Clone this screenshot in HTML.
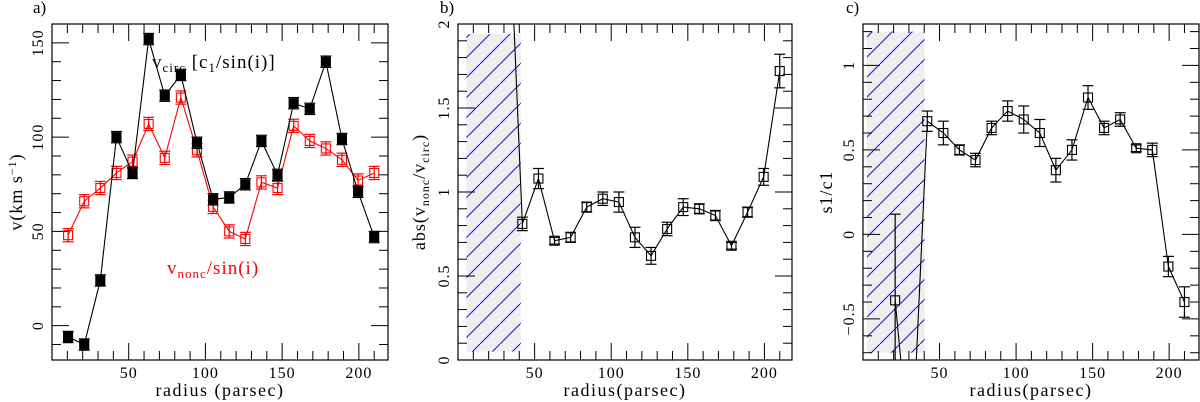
<!DOCTYPE html>
<html><head><meta charset="utf-8">
<style>
html,body{margin:0;padding:0;background:#fff;width:1200px;height:402px;overflow:hidden;}
svg{display:block;font-family:"Liberation Serif",serif;}
</style></head>
<body>
<svg id="fig" width="1200" height="402" viewBox="0 0 1200 402" xmlns="http://www.w3.org/2000/svg">
<defs>
<pattern id="hatch" patternUnits="userSpaceOnUse" width="20" height="20" patternTransform="translate(0,4)">
<rect width="20" height="20" fill="#eeeeee"/>
<line x1="0" y1="20" x2="20" y2="0" stroke="#1a1aff" stroke-width="1.1"/>
</pattern>
</defs>
</svg>
<script>
// ---- data ----
const radii = [10.5,21,31.5,42,52.5,63,73.5,84,94.5,105,115.5,126,136.5,147,157.5,168,178.5,189,199.5,210];
const vcirc = [-6,-10,24,100,81,152,122,133,97,67,68,75,98,80,118,115,140,99,71,47];
const vcircErr = [3,3,3,3,3,3,3,3,3,3,3,3,3,3,3,3,3,3,3,3];
const vnonc = [48,66,73,81,87,107,89,121,93,63,50,46,76,73,106,98,94,88,77,81];
const vnoncErr = [3.5,3.5,3.5,3.5,3.5,3.5,3.5,3.5,3.5,3.5,3.5,3.5,3.5,3.5,3.5,3.5,3.5,3.5,3.5,3.5];
const ratioR = [31.5,42,52.5,63,73.5,84,94.5,105,115.5,126,136.5,147,157.5,168,178.5,189,199.5,210];
const ratio = [3.08,0.81,1.08,0.71,0.73,0.91,0.96,0.94,0.73,0.62,0.78,0.91,0.90,0.86,0.68,0.88,1.09,1.72];
const ratioErr = [0,0.04,0.06,0.02,0.03,0.03,0.04,0.06,0.06,0.05,0.04,0.05,0.03,0.03,0.02,0.03,0.05,0.1];
const s1R = [21,31.5,42,52.5,63,73.5,84,94.5,105,115.5,126,136.5,147,157.5,168,178.5,189,199.5,210];
const s1c1 = [-0.39,-1.4,0.67,0.60,0.50,0.44,0.63,0.73,0.68,0.60,0.38,0.50,0.81,0.63,0.68,0.51,0.50,-0.19,-0.40];
const s1Err = [0.51,0,0.06,0.07,0.03,0.04,0.04,0.06,0.08,0.08,0.07,0.06,0.07,0.04,0.04,0.02,0.04,0.06,0.09];
const ticksA = [0,50,100,150];
const ticksB = [0,0.5,1,1.5,2];
const ticksC = [-0.5,0,0.5,1];
const ticksX = [50,100,150,200];

const NS="http://www.w3.org/2000/svg";
const svg=document.getElementById('fig');
function mk(tag,attrs,parent){const e=document.createElementNS(NS,tag);for(const k in attrs)e.setAttribute(k,attrs[k]);(parent||svg).appendChild(e);return e;}

function panel(p){
  const g=mk('g',{});
  
  
  const sx=v=>p.L+(v-p.x0)/(p.x1-p.x0)*(p.R-p.L);
  const sy=v=>p.B-(v-p.y0)/(p.y1-p.y0)*(p.B-p.T);
  const clipId='clip'+p.name;
  const cp=mk('clipPath',{id:clipId},g);mk('rect',{x:p.L,y:p.T,width:p.R-p.L,height:p.B-p.T},cp);
  if(p.hatch){
    const h=mk('rect',{x:sx(p.hatch[0]),y:sy(p.hatch[3]),width:sx(p.hatch[1])-sx(p.hatch[0]),height:sy(p.hatch[2])-sy(p.hatch[3]),fill:'url(#hatch)'},g);
    
    
  }
  const tg=mk('g',{stroke:'#000','stroke-width':1},g);
  for(let v=p.xmin0;v<=p.x1;v+=p.xminor){
    const maj=Math.abs(v/p.xmajor-Math.round(v/p.xmajor))<1e-6;const len=maj?17:9;const x=sx(v);
    if(x<p.L+1||x>p.R-1)continue;
    mk('line',{x1:x,y1:p.B,x2:x,y2:p.B-len},tg);mk('line',{x1:x,y1:p.T,x2:x,y2:p.T+len},tg);
  }
  const n0=Math.ceil(p.y0/p.yminor-1e-6),n1=Math.floor(p.y1/p.yminor+1e-6);
  for(let n=n0;n<=n1;n++){
    const v=n*p.yminor;const maj=Math.abs(v/p.ymajor-Math.round(v/p.ymajor))<1e-6;const len=maj?17:9;const y=sy(v);
    if(y<p.T+1||y>p.B-1)continue;
    mk('line',{x1:p.L,y1:y,x2:p.L+len,y2:y},tg);mk('line',{x1:p.R,y1:y,x2:p.R-len,y2:y},tg);
  }
  ticksX.forEach(v=>{const t=mk('text',{x:sx(v),y:p.B+18,'text-anchor':'middle','font-size':16,'letter-spacing':1},g);t.textContent=v;
    
    });
  p.yt.forEach(v=>{const y=sy(v);const t=mk('text',{x:0,y:0,'text-anchor':'middle','font-size':16,'letter-spacing':1,transform:`translate(${p.L-9},${y}) rotate(-90)`},g);t.textContent=String(v).replace('-','\u2212');
    
    });
  const dg=mk('g',{'clip-path':`url(#${clipId})`},g);
  p.series.forEach(s=>{
    const sg=mk('g',{},dg);
    
    
    const pts=s.x.map((x,i)=>sx(x)+','+sy(s.y[i])).join(' ');
    mk('polyline',{points:pts,fill:'none',stroke:s.color,'stroke-width':1.1},sg);
    s.x.forEach((x,i)=>{
      const X=sx(x),Y=sy(s.y[i]),e=s.err[i];
      if(e>0){const y1=sy(s.y[i]+e),y2=sy(s.y[i]-e);
        mk('line',{x1:X,y1:y1,x2:X,y2:y2,stroke:s.color,'stroke-width':1.2},sg);
        mk('line',{x1:X-5.5,y1:y1,x2:X+5.5,y2:y1,stroke:s.color,'stroke-width':1.2},sg);
        mk('line',{x1:X-5.5,y1:y2,x2:X+5.5,y2:y2,stroke:s.color,'stroke-width':1.2},sg);}
      const r=mk('rect',{x:X-4.5,y:Y-4.5,width:9,height:9,fill:s.fill,stroke:s.color,'stroke-width':1.1},sg);
      
      
    });
  });
  const f=mk('rect',{x:p.L,y:p.T,width:p.R-p.L,height:p.B-p.T,fill:'none',stroke:'#000','stroke-width':1.2},g);
  
  
  const xl=mk('text',{x:(p.L+p.R)/2,y:p.B+36,'text-anchor':'middle','font-size':18,'letter-spacing':1.5},g);xl.textContent=p.xlabel;
  
  
  const yl=mk('text',{x:0,y:0,'text-anchor':'middle','font-size':18,'letter-spacing':1,transform:`translate(${p.ylx},${(p.T+p.B)/2}) rotate(-90)`},g);yl.innerHTML=p.ylabel;
  
  
  const pl=mk('text',{x:p.lx,y:13,'font-size':17},g);pl.textContent=p.letter;
  
  
  return {sx,sy,g};
}

const A=panel({name:'panel-a',L:52,R:388,T:24,B:360,x0:0,x1:219,y0:-18.2,y1:160,xmin0:10,xminor:10,xmajor:50,yminor:10,ymajor:50,yt:ticksA,
  xlabel:'radius (parsec)',ylabel:'v(km s<tspan dy="-6" font-size="12">\u22121</tspan><tspan dy="6">)</tspan>',ylx:22,lx:33,letter:'a)',
  series:[{name:'vnonc-series',x:radii,y:vnonc,err:vnoncErr,color:'#ff0000',fill:'none'},
          {name:'vcirc-series',x:radii,y:vcirc,err:vcircErr,color:'#000',fill:'#000'}]});
let t=mk('text',{x:152,y:68,'font-size':19,'letter-spacing':1},A.g);
t.innerHTML='v<tspan dy="4" font-size="13">circ</tspan><tspan dy="-4"> [c</tspan><tspan dy="4" font-size="13">1</tspan><tspan dy="-4">/sin(i)]</tspan>';


t=mk('text',{x:167,y:274,'font-size':19,'letter-spacing':1,fill:'#ff0000'},A.g);
t.innerHTML='v<tspan dy="4" font-size="13">nonc</tspan><tspan dy="-4">/sin(i)</tspan>';



panel({name:'panel-b',L:458,R:792,T:24,B:360,x0:0,x1:218,y0:0,y1:2,xmin0:10,xminor:10,xmajor:50,yminor:0.1,ymajor:0.5,yt:ticksB,
  xlabel:'radius(parsec)',ylabel:'abs(v<tspan dy="4" font-size="12">nonc</tspan><tspan dy="-4">/v</tspan><tspan dy="4" font-size="12">circ</tspan><tspan dy="-4">)</tspan>',ylx:425,lx:440,letter:'b)',
  hatch:[5.5,41,0.05,1.94],
  series:[{name:'ratio-series',x:ratioR,y:ratio,err:ratioErr,color:'#000',fill:'none'}]});

panel({name:'panel-c',L:863,R:1199,T:24,B:360,x0:0,x1:219.5,y0:-0.743,y1:1.245,xmin0:10,xminor:10,xmajor:50,yminor:0.1,ymajor:0.5,yt:ticksC,
  xlabel:'radius(parsec)',ylabel:'s1/c1',ylx:832,lx:846,letter:'c)',
  hatch:[2.6,40.2,-0.7,1.2],
  series:[{name:'s1c1-series',x:s1R,y:s1c1,err:s1Err,color:'#000',fill:'none'}]});
</script>
</body></html>
